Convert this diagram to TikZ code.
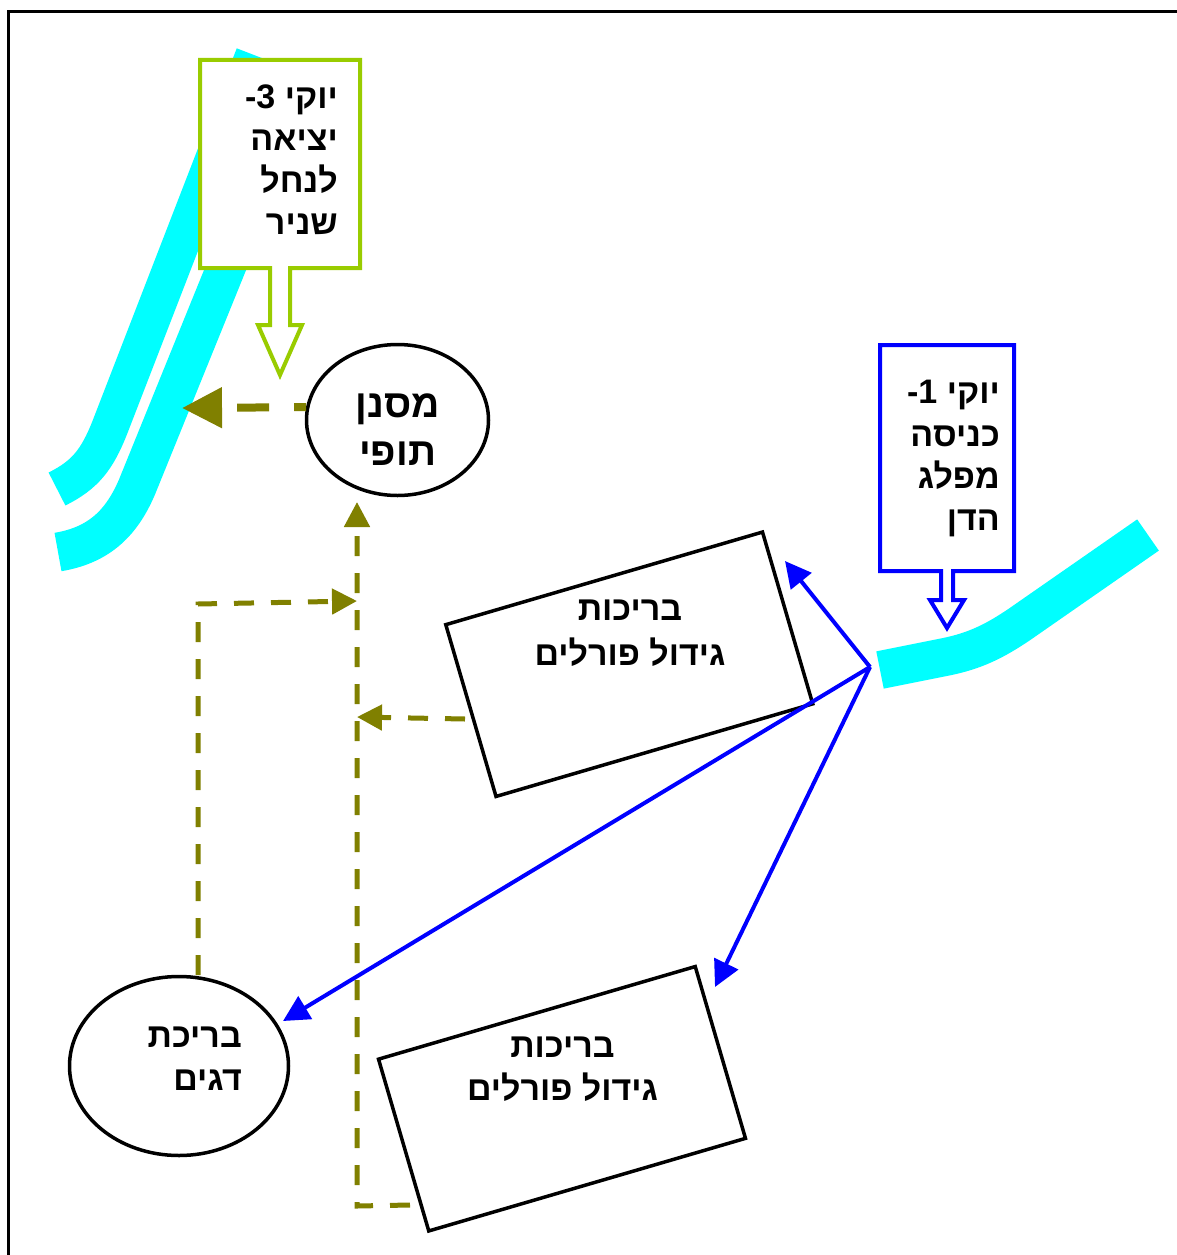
\documentclass[tikz,border=0pt]{standalone}
\usepackage{fontspec}
\newfontfamily\hebfont[Script=Hebrew]{Liberation Sans}
\newfontfamily\latinfont{Liberation Sans}
\TeXXeTstate=1
\usetikzlibrary{arrows.meta,shapes.geometric}
\definecolor{rivercyan}{RGB}{0,255,255}
\definecolor{olivearrow}{RGB}{128,128,0}
\definecolor{calloutgreen}{RGB}{153,204,0}
\definecolor{flowblue}{RGB}{0,0,255}
\newcommand{\ltrnum}[1]{\hbox{\latinfont\bfseries #1}}
\begin{document}
\begin{tikzpicture}[x=1pt,y=-1pt,
  river/.style={draw=rivercyan,line width=#1},
  heb/.style 2 args={font=\hebfont\bfseries\fontsize{#1}{#2}\selectfont,inner sep=0pt},
  pond/.style={draw,line width=3.5pt,fill=white,minimum width=330pt,minimum height=179pt,rotate=16.3,inner sep=0pt},
  oval/.style={draw,ellipse,line width=3.5pt,inner sep=0pt},
  flow/.style={draw=flowblue,line width=4pt,-{Triangle[length=26pt,width=26pt]}},
  drain/.style={draw=olivearrow,line width=5pt,dash pattern=on 20pt off 17pt,-{Triangle[length=25pt,width=25pt]}},
  bigdrain/.style={draw=olivearrow,line width=8pt,dash pattern=on 32pt off 25pt,dash phase=20pt,-{Triangle[length=40pt,width=39pt]}},
  callout/.style={line width=4pt,fill=white,line join=miter}
]
\useasboundingbox (0,0) rectangle (1176,1255);
\fill[white] (0,0) rectangle (1176,1255);
% frame
\draw[line width=3pt] (8,12) rectangle (1260,1320);

% rivers
\draw[river=37pt] (254,55) -- (110,427) .. controls (97,460) and (85,475) .. (57,489);
\draw[river=39pt] (290,110) -- (137,487) .. controls (122,522) and (100,545) .. (58,552);
\draw[river=38pt] (880,670) -- (945,657) .. controls (975,651) and (995,641) .. (1020,624) -- (1148,535);

% green callout
\draw[callout,draw=calloutgreen] (200,60) -- (360,60) -- (360,268) -- (290,268) -- (290,325) -- (302,325) -- (280,375) -- (258,325) -- (270,325) -- (270,268) -- (200,268) -- cycle;
\node[heb={34}{42},anchor=north east,align=right] (exittext) at (338,78.6)
  {\strut\beginR יוקי\ \ltrnum{-3}\endR\\\beginR יציאה\endR\\\beginR לנחל\endR\\\beginR שניר\endR};

% blue callout
\draw[callout,draw=flowblue] (880,345) -- (1014,345) -- (1014,571) -- (953,571) -- (953,600) -- (964,600) -- (947,628) -- (930,600) -- (941,600) -- (941,571) -- (880,571) -- cycle;
\node[heb={34}{42.3},anchor=north east,align=right] (entrytext) at (1000,373.9)
  {\strut\beginR יוקי\ \ltrnum{-1}\endR\\\beginR כניסה\endR\\\beginR מפלג\endR\\\beginR הדן\endR};

% ponds
\node[pond] (pond1) at (629.25,664.25) {};
\node[heb={34}{45},anchor=north,align=center] (pond1text) at (630,588.5)
  {\strut\beginR בריכות\endR\\\beginR גידול פורלים\endR};
\node[pond] (pond2) at (562,1098.75) {};
\node[heb={34}{43},anchor=north,align=center] (pond2text) at (562.5,1026.9)
  {\strut\beginR בריכות\endR\\\beginR גידול פורלים\endR};

% ellipses
\node[oval,minimum width=182pt,minimum height=151pt] (filter) at (397.5,420) {};
\node[heb={39}{48},anchor=north,align=center] (filtertext) at (397.5,383.4)
  {\strut\beginR מסנן\endR\\\beginR תופי\endR};
\node[oval,minimum width=219pt,minimum height=179pt] (fishpond) at (179,1066) {};
\node[heb={34}{43},anchor=north east,align=right] (fishtext) at (242,1016.9)
  {\strut\beginR בריכת\endR\\\beginR דגים\endR};

% coordinates
\coordinate (outlet) at (182,408);
\coordinate (filterin) at (357,502);
\coordinate (junction) at (357,601);
\coordinate (side) at (357,717);
\coordinate (pond1out) at (465,719);
\coordinate (pond2out) at (410,1205);
\coordinate (bottomcorner) at (357,1206);
\coordinate (fishout) at (198,975);
\coordinate (fishcorner) at (198,604);
\coordinate (hub) at (870,667);
\coordinate (pond1in) at (785,561);
\coordinate (pond2in) at (715,987);
\coordinate (fishin) at (283,1021);

% olive drains
\draw[bigdrain] (filter.172) -- (outlet);
\draw[drain] (pond2out) -- (bottomcorner) -- (filterin);
\draw[drain] (fishout) -- (fishcorner) -- (junction);
\draw[drain] (pond1out) -- (side);

% blue flows
\draw[flow] (hub) -- (pond1in);
\draw[flow] (hub) -- (fishin);
\draw[flow] (hub) -- (pond2in);
\end{tikzpicture}
\end{document}
